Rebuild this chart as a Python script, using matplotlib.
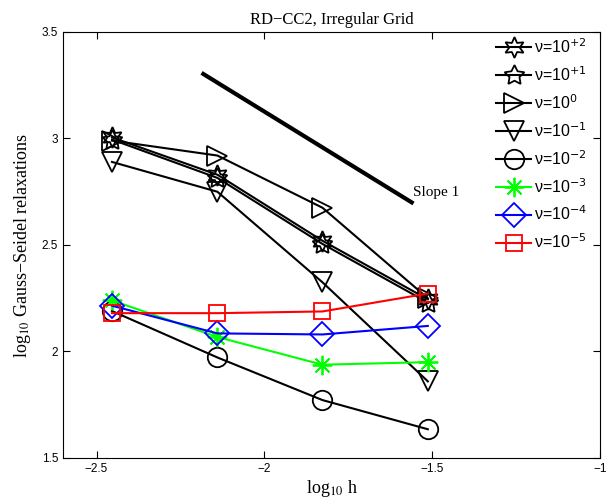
import matplotlib
matplotlib.use("Agg")
import matplotlib.pyplot as plt
from matplotlib.ticker import FuncFormatter

plt.rcParams['font.family'] = ['Liberation Sans', 'DejaVu Sans']

# log10 h for the four grids
x = [-2.454, -2.140, -1.827, -1.513]

nu_labels = [r"ν=10$^{+2}$", r"ν=10$^{+1}$", r"ν=10$^{0}$", r"ν=10$^{-1}$",
             r"ν=10$^{-2}$", r"ν=10$^{-3}$", r"ν=10$^{-4}$", r"ν=10$^{-5}$"]

y_p2 = [3.005, 2.830, 2.520, 2.245]
y_p1 = [2.995, 2.815, 2.505, 2.230]
y_0 = [2.990, 2.920, 2.675, 2.250]
y_m1 = [2.890, 2.750, 2.325, 1.860]
y_m2 = [2.190, 1.972, 1.772, 1.635]
y_m3 = [2.240, 2.068, 1.938, 1.950]
y_m4 = [2.215, 2.085, 2.080, 2.120]
y_m5 = [2.180, 2.180, 2.188, 2.272]

series = [y_p2, y_p1, y_0, y_m1, y_m2, y_m3, y_m4, y_m5]
markers = [(6, 1, 0), (5, 1, 0), '>', 'v', 'o', (8, 2, 0), 'D', 's']
colors = ['k', 'k', 'k', 'k', 'k', (0, 1, 0), (0, 0, 1), (1, 0, 0)]
msizes = [15, 15, 15, 15, 14, 14, 12, 12]

slope_x = [-2.182, -1.561]
slope_y = [3.303, 2.700]

fig = plt.figure(figsize=(6.06, 5.01), dpi=100)
ax = fig.add_axes([63/606, 43/501, 537/606, 426/501])

for ys, mk, c, ms, lab in zip(series, markers, colors, msizes, nu_labels):
    ax.plot(x, ys, color=c, marker=mk, markersize=ms, markerfacecolor='none',
            markeredgecolor=c, markeredgewidth=1.3, linewidth=1.5, label=lab)

ax.plot(slope_x, slope_y, color='k', linewidth=3)
ax.text(-1.556, 2.745, "Slope 1", family='Liberation Serif', fontsize=11,
        va='center', ha='left')

ax.set_xlim(-2.6, -1)
ax.set_ylim(1.5, 3.5)
ax.set_xticks([-2.5, -2, -1.5, -1])
ax.set_yticks([1.5, 2, 2.5, 3, 3.5])
fmt = FuncFormatter(lambda v, p: ("%g" % v).replace("-", "\u2212"))
ax.xaxis.set_major_formatter(fmt)
ax.yaxis.set_major_formatter(fmt)
ax.tick_params(direction='in', top=True, right=True, labelsize=8.5, length=5)

ax.set_title("RD−CC2, Irregular Grid", family='Liberation Serif', fontsize=12, pad=6)
ax.set_xlabel(r"log$_{10}$ h", family='Liberation Serif', fontsize=13,
              math_fontfamily='stix', labelpad=2)
ax.set_ylabel(r"log$_{10}$ Gauss−Seidel relaxations", family='Liberation Serif',
              fontsize=13, math_fontfamily='stix', labelpad=6)

leg = ax.legend(loc='upper left', bbox_to_anchor=((496 - 63) / 537, (458 - 37) / 426),
                frameon=False, fontsize=11.5, handlelength=2.2, handletextpad=0.2,
                labelspacing=0.58, borderpad=0, borderaxespad=0)

fig.savefig("out.png", dpi=100)
